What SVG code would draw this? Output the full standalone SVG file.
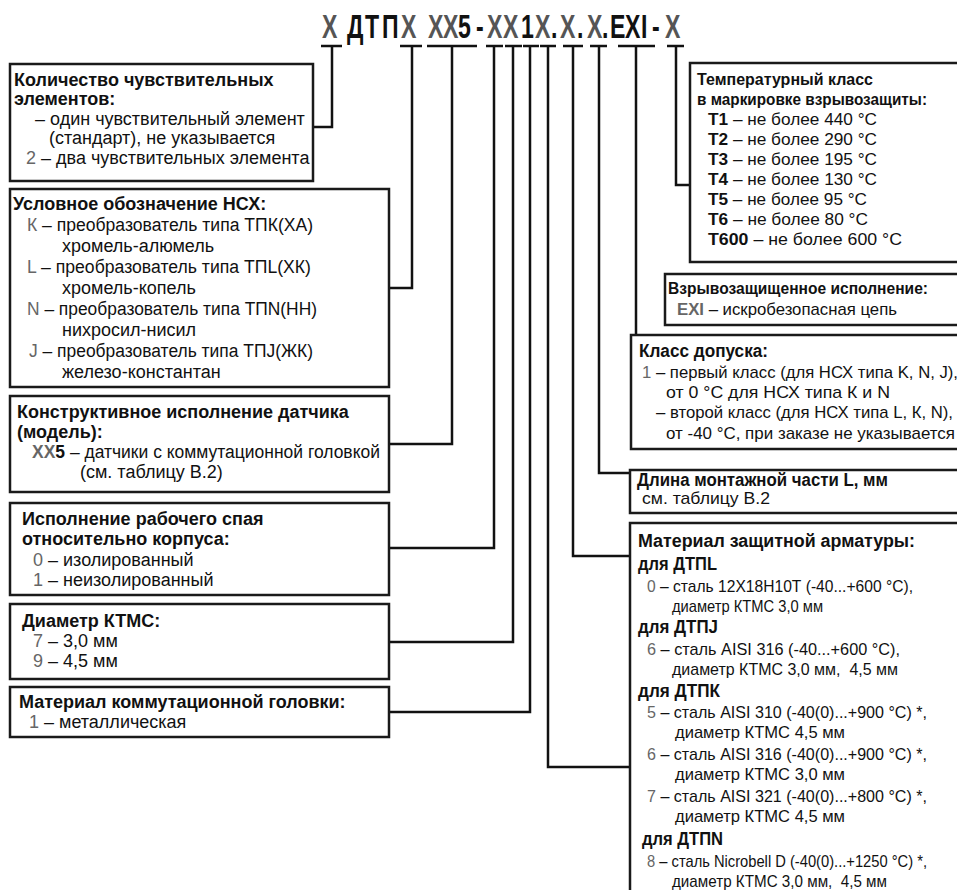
<svg xmlns="http://www.w3.org/2000/svg" width="957" height="890" viewBox="0 0 957 890">
<style>
.box{fill:#fff;stroke:#1a1a1a;stroke-width:2.5}
.conn{fill:none;stroke:#111;stroke-width:2.5}
text{font-family:"Liberation Sans",Arial,sans-serif;fill:#111}
.h{font-size:18px;font-weight:bold}
.t{font-size:18px}
.r{font-size:17px}
.rh{font-size:17px;font-weight:bold}
.g{fill:#666}
.b{font-weight:bold}
.ttl{font-size:33px;font-weight:bold}
.tg{fill:#555}
.tb{fill:#111}
</style>
<rect width="957" height="890" fill="#fff"/>
<g id="title" transform="scale(0.7,1)">
<text class="ttl" y="38"><tspan class="tg" x="460">X</tspan><tspan class="tb" x="495.7 521.4 545.7">ДТП</tspan><tspan class="tg" x="572.9 611.4 632.9">XXX</tspan><tspan class="tb" x="654.3 680">5-</tspan><tspan class="tg" x="695.7 718.6">XX</tspan><tspan class="tb" x="744.3">1</tspan><tspan class="tg" x="764.3">X</tspan><tspan class="tb" x="787.1">.</tspan><tspan class="tg" x="800">X</tspan><tspan class="tb" x="824.3">.</tspan><tspan class="tg" x="838.6">X</tspan><tspan class="tb" x="860 871.4 892.9 915.7 931.4">.EXI-</tspan><tspan class="tg" x="950">X</tspan></text>
</g>
<g id="connectors">
<path class="conn" d="M321,46H342M332,46V127H313"/>
<path class="conn" d="M400,46H422M412,46V288H389"/>
<path class="conn" d="M427,46H477M452,46V444H389"/>
<path class="conn" d="M486,46H503M494,46V548H389"/>
<path class="conn" d="M505,46H522M513,46V642H389"/>
<path class="conn" d="M523,46H539M530,46V712H389"/>
<path class="conn" d="M540,46H556M548,46V767H630"/>
<path class="conn" d="M563,46H583M573,46V556H630"/>
<path class="conn" d="M590,46H607M599,46V473H630"/>
<path class="conn" d="M618,46H655M636,46V335"/>
<path class="conn" d="M667,46H684M676,46V185H690"/>
</g>
<g id="n-count">
<rect class="box" x="10" y="64" width="303" height="117"/>
<text class="h" x="14" y="86">Количество чувствительных</text>
<text class="h" x="14" y="105">элементов:</text>
<text class="t" x="35" y="125">– один чувствительный элемент</text>
<text class="t" x="49" y="144">(стандарт), не указывается</text>
<text class="t" x="26" y="164"><tspan class="g">2</tspan> – два чувствительных элемента</text>
</g>
<g id="n-nsx">
<rect class="box" x="10" y="189" width="379" height="198"/>
<text class="h" x="13" y="210">Условное обозначение НСХ:</text>
<text class="t" x="27" y="231" textLength="286" lengthAdjust="spacingAndGlyphs"><tspan class="g">К</tspan> – преобразователь типа ТПК(ХА)</text>
<text class="t" x="62" y="252">хромель-алюмель</text>
<text class="t" x="27" y="273" textLength="284" lengthAdjust="spacingAndGlyphs"><tspan class="g">L</tspan> – преобразователь типа ТПL(ХК)</text>
<text class="t" x="62" y="294">хромель-копель</text>
<text class="t" x="27" y="315" textLength="290" lengthAdjust="spacingAndGlyphs"><tspan class="g">N</tspan> – преобразователь типа ТПN(НН)</text>
<text class="t" x="62" y="336">нихросил-нисил</text>
<text class="t" x="29" y="357" textLength="284" lengthAdjust="spacingAndGlyphs"><tspan class="g">J</tspan> – преобразователь типа ТПJ(ЖК)</text>
<text class="t" x="62" y="378">железо-константан</text>
</g>
<g id="n-model">
<rect class="box" x="10" y="396" width="379" height="96"/>
<text class="h" x="17" y="418">Конструктивное исполнение датчика</text>
<text class="h" x="17" y="438">(модель):</text>
<text class="t" x="32" y="458" textLength="348" lengthAdjust="spacingAndGlyphs"><tspan class="b g">XX</tspan><tspan class="b">5</tspan> – датчики с коммутационной головкой</text>
<text class="t" x="80" y="478">(см. таблицу В.2)</text>
</g>
<g id="n-junction">
<rect class="box" x="10" y="503" width="379" height="92"/>
<text class="h" x="22" y="525">Исполнение рабочего спая</text>
<text class="h" x="22" y="545">относительно корпуса:</text>
<text class="t" x="33" y="566"><tspan class="g">0</tspan> – изолированный</text>
<text class="t" x="33" y="586"><tspan class="g">1</tspan> – неизолированный</text>
</g>
<g id="n-diam">
<rect class="box" x="10" y="604" width="379" height="75"/>
<text class="h" x="22" y="627">Диаметр КТМС:</text>
<text class="t" x="33" y="647"><tspan class="g">7</tspan> – 3,0 мм</text>
<text class="t" x="33" y="667"><tspan class="g">9</tspan> – 4,5 мм</text>
</g>
<g id="n-head">
<rect class="box" x="10" y="687" width="379" height="50"/>
<text class="h" x="19" y="708">Материал коммутационной головки:</text>
<text class="t" x="29" y="728"><tspan class="g">1</tspan> – металлическая</text>
</g>
<g id="n-tclass">
<rect class="box" x="690" y="63" width="280" height="199"/>
<text class="rh" x="697" y="85" textLength="176" lengthAdjust="spacingAndGlyphs">Температурный класс</text>
<text class="rh" x="697" y="105" textLength="230" lengthAdjust="spacingAndGlyphs">в маркировке взрывозащиты:</text>
<text class="r" x="708" y="125" textLength="169" lengthAdjust="spacingAndGlyphs"><tspan class="b">T1</tspan> – не более 440 °C</text>
<text class="r" x="708" y="145" textLength="169" lengthAdjust="spacingAndGlyphs"><tspan class="b">T2</tspan> – не более 290 °C</text>
<text class="r" x="708" y="165" textLength="169" lengthAdjust="spacingAndGlyphs"><tspan class="b">T3</tspan> – не более 195 °C</text>
<text class="r" x="708" y="185" textLength="169" lengthAdjust="spacingAndGlyphs"><tspan class="b">T4</tspan> – не более 130 °C</text>
<text class="r" x="708" y="205" textLength="159" lengthAdjust="spacingAndGlyphs"><tspan class="b">T5</tspan> – не более 95 °C</text>
<text class="r" x="708" y="225" textLength="160" lengthAdjust="spacingAndGlyphs"><tspan class="b">T6</tspan> – не более 80 °C</text>
<text class="r" x="708" y="245" textLength="194" lengthAdjust="spacingAndGlyphs"><tspan class="b">T600</tspan> – не более 600 °C</text>
</g>
<g id="n-exi">
<rect class="box" x="665" y="274" width="305" height="51"/>
<text class="rh" x="668" y="294" textLength="260" lengthAdjust="spacingAndGlyphs">Взрывозащищенное исполнение:</text>
<text class="r" x="677" y="315" textLength="220" lengthAdjust="spacingAndGlyphs"><tspan class="b g">EXI</tspan> – искробезопасная цепь</text>
</g>
<g id="n-tol">
<rect class="box" x="631" y="335" width="339" height="114"/>
<text class="h" x="639" y="357" textLength="129" lengthAdjust="spacingAndGlyphs">Класс допуска:</text>
<text class="r" x="642" y="378" textLength="316" lengthAdjust="spacingAndGlyphs"><tspan class="g">1</tspan> – первый класс (для НСХ типа K, N, J),</text>
<text class="r" x="666" y="398" textLength="224" lengthAdjust="spacingAndGlyphs">от 0 °C для НСХ типа К и N</text>
<text class="r" x="656" y="418" textLength="297" lengthAdjust="spacingAndGlyphs">– второй класс (для НСХ типа L, К, N),</text>
<text class="r" x="666" y="439" textLength="289" lengthAdjust="spacingAndGlyphs">от -40 °C, при заказе не указывается</text>
</g>
<g id="n-length">
<rect class="box" x="630" y="470" width="340" height="43"/>
<text class="h" x="637" y="486" textLength="251" lengthAdjust="spacingAndGlyphs">Длина монтажной части L, мм</text>
<text class="r" x="642" y="504" textLength="128" lengthAdjust="spacingAndGlyphs">см. таблицу В.2</text>
</g>
<g id="n-material">
<rect class="box" x="630" y="523" width="340" height="380"/>
<text class="h" x="638" y="547" textLength="277" lengthAdjust="spacingAndGlyphs">Материал защитной арматуры:</text>
<text class="h" x="638" y="570" textLength="79" lengthAdjust="spacingAndGlyphs">для ДТПL</text>
<text class="r" x="647" y="592" textLength="266" lengthAdjust="spacingAndGlyphs"><tspan class="g">0</tspan> – сталь 12Х18Н10Т (-40...+600 °C),</text>
<text class="r" x="672" y="612" textLength="151" lengthAdjust="spacingAndGlyphs">диаметр КТМС 3,0 мм</text>
<text class="h" x="638" y="633" textLength="80" lengthAdjust="spacingAndGlyphs">для ДТПJ</text>
<text class="r" x="647" y="655" textLength="253" lengthAdjust="spacingAndGlyphs"><tspan class="g">6</tspan> – сталь AISI 316 (-40...+600 °C),</text>
<text class="r" x="672" y="675" textLength="226" lengthAdjust="spacingAndGlyphs" xml:space="preserve">диаметр КТМС 3,0 мм,  4,5 мм</text>
<text class="h" x="638" y="697" textLength="82" lengthAdjust="spacingAndGlyphs">для ДТПК</text>
<text class="r" x="647" y="718" textLength="280" lengthAdjust="spacingAndGlyphs"><tspan class="g">5</tspan> – сталь AISI 310 (-40(0)...+900 °C) *,</text>
<text class="r" x="675" y="738" textLength="170" lengthAdjust="spacingAndGlyphs">диаметр КТМС 4,5 мм</text>
<text class="r" x="647" y="760" textLength="280" lengthAdjust="spacingAndGlyphs"><tspan class="g">6</tspan> – сталь AISI 316 (-40(0)...+900 °C) *,</text>
<text class="r" x="675" y="780" textLength="170" lengthAdjust="spacingAndGlyphs">диаметр КТМС 3,0 мм</text>
<text class="r" x="647" y="802" textLength="280" lengthAdjust="spacingAndGlyphs"><tspan class="g">7</tspan> – сталь AISI 321 (-40(0)...+800 °C) *,</text>
<text class="r" x="675" y="822" textLength="170" lengthAdjust="spacingAndGlyphs">диаметр КТМС 4,5 мм</text>
<text class="h" x="642" y="845" textLength="81" lengthAdjust="spacingAndGlyphs">для ДТПN</text>
<text class="r" x="647" y="867" textLength="280" lengthAdjust="spacingAndGlyphs"><tspan class="g">8</tspan> – сталь Nicrobell D (-40(0)...+1250 °C) *,</text>
<text class="r" x="672" y="887" textLength="215" lengthAdjust="spacingAndGlyphs" xml:space="preserve">диаметр КТМС 3,0 мм,  4,5 мм</text>
</g>
</svg>
